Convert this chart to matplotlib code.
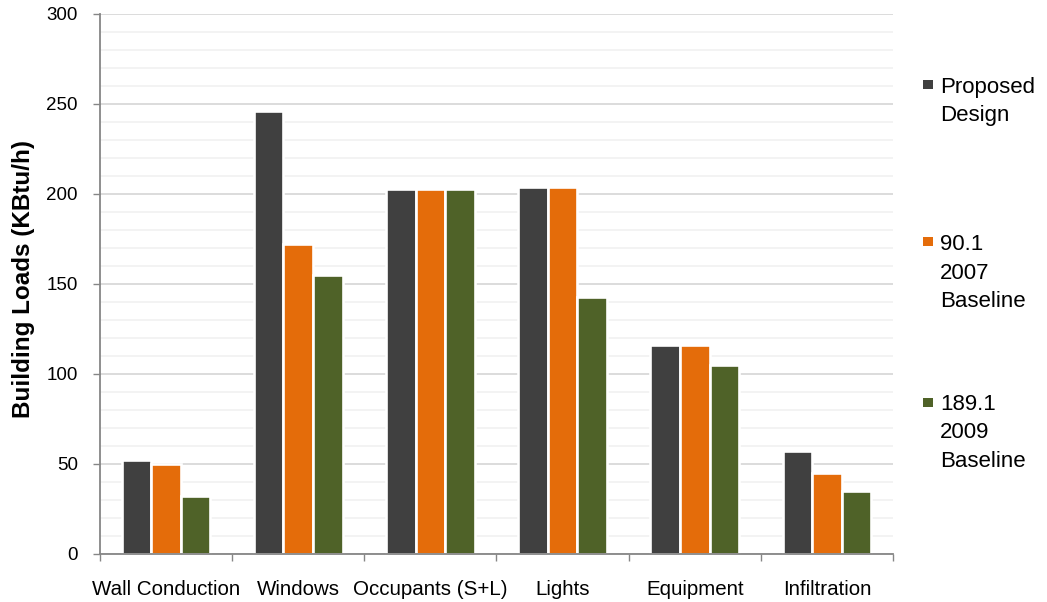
import matplotlib
matplotlib.use("Agg")
import matplotlib.pyplot as plt
from matplotlib.patches import Rectangle
from matplotlib.ticker import MultipleLocator, FixedLocator, NullFormatter, FixedFormatter
import numpy as np

categories = ["Wall Conduction", "Windows", "Occupants (S+L)", "Lights", "Equipment", "Infiltration"]
series_names = ["Proposed\nDesign", "90.1\n2007\nBaseline", "189.1\n2009\nBaseline"]
proposed = [52, 246, 203, 204, 116, 57]
baseline_2007 = [50, 172, 203, 204, 116, 45]
baseline_2009 = [32, 155, 203, 143, 105, 35]
y_ticks = [0, 50, 100, 150, 200, 250, 300]

colors = ["#404040", "#E46C0A", "#4F6228"]
series = [proposed, baseline_2007, baseline_2009]

plt.rcParams['font.family'] = ['Liberation Sans', 'DejaVu Sans']

W, H = 1047, 602
fig = plt.figure(figsize=(W / 100, H / 100), dpi=100)
ax = fig.add_axes([100 / W, 1 - 554 / H, 793 / W, 540 / H])

x = np.arange(len(categories))
bw = 0.2235
for i, (vals, c) in enumerate(zip(series, colors)):
    ax.bar(x + (i - 1) * bw, vals, width=bw, color=c, edgecolor="white",
           linewidth=1.9, zorder=3)

ax.set_xlim(-0.5, len(categories) - 0.5)
ax.set_ylim(0, 300)

# y axis
ax.yaxis.set_major_locator(FixedLocator(y_ticks))
ax.yaxis.set_minor_locator(MultipleLocator(10))
ax.tick_params(axis="y", which="major", length=5, width=1, color="#868686",
               labelsize=13.5, pad=11, direction="out")
ax.tick_params(axis="y", which="minor", length=0)
ax.grid(axis="y", which="major", color="#d9d9d9", linewidth=1.3, zorder=0)
ax.grid(axis="y", which="minor", color="#f2f2f2", linewidth=1.3, zorder=0)
ax.set_axisbelow(True)

# x axis: tick marks at category boundaries, labels at centers
ax.xaxis.set_major_locator(FixedLocator(np.arange(-0.5, len(categories), 1.0)))
ax.xaxis.set_major_formatter(NullFormatter())
ax.xaxis.set_minor_locator(FixedLocator(x))
ax.xaxis.set_minor_formatter(FixedFormatter(categories))
ax.tick_params(axis="x", which="major", length=5, width=1, color="#868686", direction="out")
ax.tick_params(axis="x", which="minor", length=0, labelsize=14.8, pad=19)

for s in ["top", "right"]:
    ax.spines[s].set_visible(False)
for s in ["left", "bottom"]:
    ax.spines[s].set_color("#868686")
    ax.spines[s].set_linewidth(1.3)
    ax.spines[s].set_zorder(4)

ax.set_ylabel("Building Loads (KBtu/h)", fontsize=17.5, fontweight="bold", va="center")
ax.yaxis.set_label_coords(-0.097, 0.51)

# legend (manual, marker aligned with first text line)
baselines_px = [92.7, 250, 410]
line_step = 28.5
for name, c, by in zip(series_names, colors, baselines_px):
    fig.patches.append(Rectangle((923 / W, 1 - (by - 3.5) / H), 10 / W, 9 / H,
                                 transform=fig.transFigure, facecolor=c,
                                 edgecolor="none"))
    for k, line in enumerate(name.split("\n")):
        fig.text(940 / W, 1 - (by + k * line_step) / H, line, fontsize=16,
                 va="baseline", ha="left")

fig.savefig("out.png", dpi=100)
